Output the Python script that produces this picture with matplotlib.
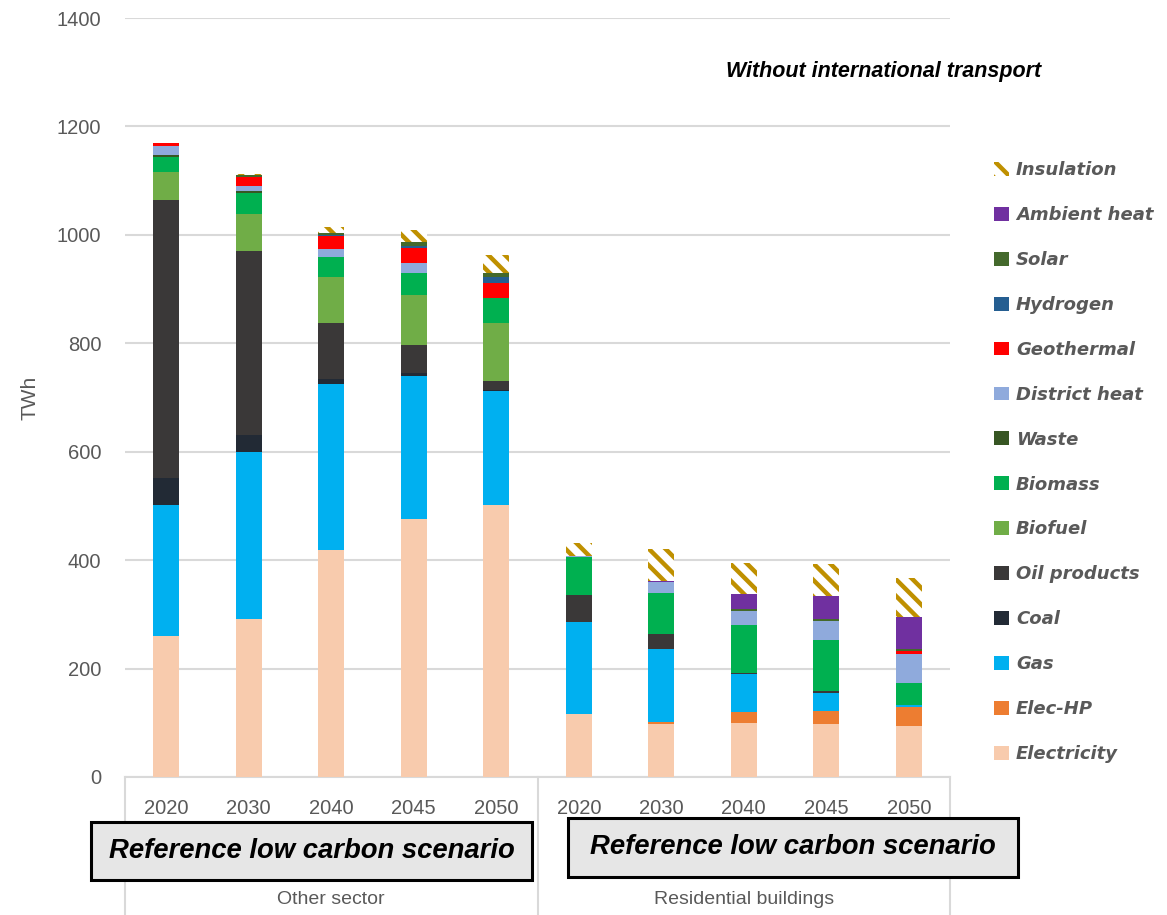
import numpy as np
import matplotlib
matplotlib.use("Agg")
import matplotlib.pyplot as plt
from matplotlib.patches import Rectangle, Patch

years = ["2020", "2030", "2040", "2045", "2050", "2020", "2030", "2040", "2045", "2050"]
groups = ["Other sector", "Residential buildings"]

electricity = [261, 292, 419, 476, 502, 117, 97, 100, 97, 94]
elec_hp = [0, 0, 0, 0, 0, 0, 4, 20, 25, 36]
gas = [240, 308, 306, 264, 210, 169, 136, 70, 33, 3]
coal = [51, 30, 10, 6, 2, 0, 0, 0, 0, 0]
oil = [513, 340, 102, 50, 17, 49, 27, 2, 3, 0]
biofuel = [51, 69, 85, 93, 106, 0, 0, 0, 0, 0]
biomass = [28, 39, 38, 41, 46, 71, 76, 88, 94, 40]
waste = [3, 2, 0, 0, 0, 0, 0, 0, 0, 0]
district = [17, 10, 13, 19, 0, 2, 19, 27, 36, 54]
geothermal = [6, 17, 24, 26, 29, 0, 0, 0, 0, 5]
hydrogen = [0, 0, 2, 5, 11, 0, 0, 0, 0, 0]
solar = [0, 3, 4, 6, 6, 0, 0, 2, 3, 4]
ambient = [0, 0, 0, 0, 0, 0, 3, 29, 43, 59]
insulation = [0, 3, 12, 23, 34, 24, 58, 57, 58, 72]

series = [
    ("Electricity", electricity, "#F8CBAD"),
    ("Elec-HP", elec_hp, "#ED7D31"),
    ("Gas", gas, "#00B0F0"),
    ("Coal", coal, "#222A35"),
    ("Oil products", oil, "#3A3838"),
    ("Biofuel", biofuel, "#70AD47"),
    ("Biomass", biomass, "#00B050"),
    ("Waste", waste, "#375623"),
    ("District heat", district, "#8FAADC"),
    ("Geothermal", geothermal, "#FF0000"),
    ("Hydrogen", hydrogen, "#255E91"),
    ("Solar", solar, "#44692C"),
    ("Ambient heat", ambient, "#7030A0"),
]

plt.rcParams["hatch.linewidth"] = 3.2
gray = "#595959"
lib = "Liberation Sans"

fig = plt.figure(figsize=(11.67, 9.15), dpi=100)
ax = fig.add_axes([125/1167, 1-777/915, 825/1167, 759/915])

x = np.arange(len(years))
w = 0.32
bottom = np.zeros(len(years))
handles = []
for name, vals, col in series:
    ax.bar(x, vals, w, bottom=bottom, color=col, linewidth=0, zorder=3)
    bottom += np.array(vals)
    handles.append(Patch(facecolor=col, label=name))
ax.bar(x, insulation, w, bottom=bottom, facecolor="white", edgecolor="#BF9000",
       hatch="\\\\", linewidth=0, zorder=3)
handles.append(Patch(facecolor="white", edgecolor="#BF9000", hatch="\\\\", linewidth=0, label="Insulation"))

ax.set_xlim(-0.5, 9.5)
ax.set_ylim(0, 1400)
ax.set_yticks(range(0, 1401, 200))
ax.grid(axis="y", color="#D9D9D9", linewidth=1.5, zorder=0)
for s in ["top", "right", "left"]:
    ax.spines[s].set_visible(False)
ax.spines["bottom"].set_color("#D9D9D9")
ax.spines["bottom"].set_linewidth(1.5)
ax.tick_params(axis="y", length=0, labelsize=14.5, labelcolor=gray, pad=17)
ax.tick_params(axis="x", length=0, labelbottom=False)
for lab in ax.get_yticklabels():
    lab.set_family(lib)
ax.text(-0.115, 0.5, "TWh", transform=ax.transAxes, rotation=90, ha="center",
        va="center", fontsize=15, color=gray, family=lib)

trans = ax.get_xaxis_transform()
for i, yr in enumerate(years):
    ax.text(i, -0.041, yr, transform=trans, ha="center", va="center",
            fontsize=14.5, color=gray, family=lib)
for xs in [-0.5, 4.5, 9.5]:
    ax.plot([xs, xs], [0, -0.19], transform=trans, color="#D9D9D9",
            linewidth=1.5, clip_on=False)
ax.text(2, -0.162, groups[0], transform=trans, ha="center", va="center",
        fontsize=14, color=gray, family=lib)
ax.text(7, -0.162, groups[1], transform=trans, ha="center", va="center",
        fontsize=14, color=gray, family=lib)

# scenario boxes
for (x0, y0, x1, y1) in [(91, 822, 532, 880), (568, 818, 1018, 877)]:
    fig.patches.append(Rectangle((x0/1167, 1-y1/915), (x1-x0)/1167, (y1-y0)/915,
                                 transform=fig.transFigure, facecolor="#E6E6E6",
                                 edgecolor="black", linewidth=2.2, zorder=5))
    fig.text((x0+x1)/2/1167, 1-(y0+y1)/2/915, "Reference low carbon scenario",
             ha="center", va="center", fontsize=19.8, fontweight="bold",
             fontstyle="italic", family=lib, zorder=6)

fig.text(884/1167, 1-72/915, "Without international transport", ha="center",
         va="center", fontsize=15.5, fontweight="bold", fontstyle="italic",
         family=lib)

leg = fig.legend(handles=handles[::-1], loc="upper left",
                 bbox_to_anchor=(987/1167, 1-154/915), frameon=False,
                 handlelength=0.8, handleheight=0.8, handletextpad=0.4,
                 labelspacing=1.49, borderaxespad=0,
                 prop={"size": 13, "weight": "bold", "style": "italic"})
for t in leg.get_texts():
    t.set_color(gray)

fig.savefig("out.png", dpi=100)
